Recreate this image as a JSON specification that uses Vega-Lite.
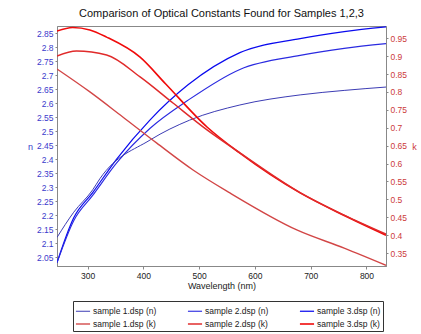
{
  "$schema": "https://vega.github.io/schema/vega-lite/v6.json",
  "autosize": {"type": "none"},
  "padding": {"left": 57, "top": 26, "right": 35, "bottom": 68},
  "width": 329,
  "height": 240,
  "background": "white",
  "title": {"text": "Comparison of Optical Constants Found for Samples 1,2,3", "fontSize": 11, "fontWeight": "normal", "font": "Liberation Sans", "color": "#111", "offset": 7, "anchor": "middle"},
  "config": {
    "view": {"stroke": "#888", "strokeWidth": 1},
    "axis": {"grid": false, "labelFont": "Liberation Sans", "titleFont": "Liberation Sans", "labelFontSize": 8.5, "titleFontSize": 9, "titleFontWeight": "normal", "domainColor": "#888", "tickColor": "#888", "tickSize": 3},
    "legend": {"labelFont": "Liberation Sans"}
  },
  "datasets": {
    "pts": [
      {"series": "sample 3.dsp (n)", "q": "n", "wl": 245, "v": 2.03},
      {"series": "sample 3.dsp (n)", "q": "n", "wl": 275, "v": 2.19},
      {"series": "sample 3.dsp (n)", "q": "n", "wl": 309, "v": 2.28},
      {"series": "sample 3.dsp (n)", "q": "n", "wl": 352, "v": 2.40},
      {"series": "sample 3.dsp (n)", "q": "n", "wl": 412, "v": 2.54},
      {"series": "sample 3.dsp (n)", "q": "n", "wl": 480, "v": 2.665},
      {"series": "sample 3.dsp (n)", "q": "n", "wl": 573, "v": 2.78},
      {"series": "sample 3.dsp (n)", "q": "n", "wl": 681, "v": 2.83},
      {"series": "sample 3.dsp (n)", "q": "n", "wl": 760, "v": 2.855},
      {"series": "sample 3.dsp (n)", "q": "n", "wl": 835, "v": 2.872},
      {"series": "sample 2.dsp (n)", "q": "n", "wl": 245, "v": 2.03},
      {"series": "sample 2.dsp (n)", "q": "n", "wl": 275, "v": 2.18},
      {"series": "sample 2.dsp (n)", "q": "n", "wl": 309, "v": 2.27},
      {"series": "sample 2.dsp (n)", "q": "n", "wl": 352, "v": 2.386},
      {"series": "sample 2.dsp (n)", "q": "n", "wl": 412, "v": 2.51},
      {"series": "sample 2.dsp (n)", "q": "n", "wl": 480, "v": 2.61},
      {"series": "sample 2.dsp (n)", "q": "n", "wl": 573, "v": 2.72},
      {"series": "sample 2.dsp (n)", "q": "n", "wl": 681, "v": 2.77},
      {"series": "sample 2.dsp (n)", "q": "n", "wl": 760, "v": 2.795},
      {"series": "sample 2.dsp (n)", "q": "n", "wl": 835, "v": 2.812},
      {"series": "sample 1.dsp (n)", "q": "n", "wl": 245, "v": 2.12},
      {"series": "sample 1.dsp (n)", "q": "n", "wl": 275, "v": 2.21},
      {"series": "sample 1.dsp (n)", "q": "n", "wl": 309, "v": 2.29},
      {"series": "sample 1.dsp (n)", "q": "n", "wl": 322, "v": 2.33},
      {"series": "sample 1.dsp (n)", "q": "n", "wl": 412, "v": 2.468},
      {"series": "sample 1.dsp (n)", "q": "n", "wl": 483, "v": 2.539},
      {"series": "sample 1.dsp (n)", "q": "n", "wl": 573, "v": 2.593},
      {"series": "sample 1.dsp (n)", "q": "n", "wl": 681, "v": 2.629},
      {"series": "sample 1.dsp (n)", "q": "n", "wl": 760, "v": 2.645},
      {"series": "sample 1.dsp (n)", "q": "n", "wl": 835, "v": 2.657},
      {"series": "sample 3.dsp (k)", "q": "k", "wl": 245, "v": 0.970},
      {"series": "sample 3.dsp (k)", "q": "k", "wl": 273, "v": 0.980},
      {"series": "sample 3.dsp (k)", "q": "k", "wl": 304, "v": 0.973},
      {"series": "sample 3.dsp (k)", "q": "k", "wl": 334, "v": 0.953},
      {"series": "sample 3.dsp (k)", "q": "k", "wl": 394, "v": 0.897},
      {"series": "sample 3.dsp (k)", "q": "k", "wl": 440, "v": 0.822},
      {"series": "sample 3.dsp (k)", "q": "k", "wl": 514, "v": 0.702},
      {"series": "sample 3.dsp (k)", "q": "k", "wl": 573, "v": 0.629},
      {"series": "sample 3.dsp (k)", "q": "k", "wl": 681, "v": 0.518},
      {"series": "sample 3.dsp (k)", "q": "k", "wl": 760, "v": 0.455},
      {"series": "sample 3.dsp (k)", "q": "k", "wl": 835, "v": 0.400},
      {"series": "sample 2.dsp (k)", "q": "k", "wl": 245, "v": 0.900},
      {"series": "sample 2.dsp (k)", "q": "k", "wl": 280, "v": 0.914},
      {"series": "sample 2.dsp (k)", "q": "k", "wl": 334, "v": 0.903},
      {"series": "sample 2.dsp (k)", "q": "k", "wl": 394, "v": 0.842},
      {"series": "sample 2.dsp (k)", "q": "k", "wl": 453, "v": 0.769},
      {"series": "sample 2.dsp (k)", "q": "k", "wl": 514, "v": 0.694},
      {"series": "sample 2.dsp (k)", "q": "k", "wl": 573, "v": 0.630},
      {"series": "sample 2.dsp (k)", "q": "k", "wl": 681, "v": 0.519},
      {"series": "sample 2.dsp (k)", "q": "k", "wl": 760, "v": 0.456},
      {"series": "sample 2.dsp (k)", "q": "k", "wl": 835, "v": 0.403},
      {"series": "sample 1.dsp (k)", "q": "k", "wl": 245, "v": 0.864},
      {"series": "sample 1.dsp (k)", "q": "k", "wl": 304, "v": 0.800},
      {"series": "sample 1.dsp (k)", "q": "k", "wl": 363, "v": 0.730},
      {"series": "sample 1.dsp (k)", "q": "k", "wl": 424, "v": 0.657},
      {"series": "sample 1.dsp (k)", "q": "k", "wl": 489, "v": 0.582},
      {"series": "sample 1.dsp (k)", "q": "k", "wl": 555, "v": 0.518},
      {"series": "sample 1.dsp (k)", "q": "k", "wl": 676, "v": 0.414},
      {"series": "sample 1.dsp (k)", "q": "k", "wl": 760, "v": 0.364},
      {"series": "sample 1.dsp (k)", "q": "k", "wl": 835, "v": 0.316}
    ]
  },
  "data": {"name": "pts"},
  "encoding": {
    "x": {"field": "wl", "type": "quantitative", "scale": {"domain": [245, 835], "nice": false, "zero": false},
      "axis": {"title": "Wavelength (nm)", "values": [300, 400, 500, 600, 700, 800], "labelPadding": 2, "titlePadding": 2, "labelColor": "#222", "titleColor": "#222"}},
    "color": {"field": "series", "type": "nominal",
      "scale": {"domain": ["sample 1.dsp (n)", "sample 2.dsp (n)", "sample 3.dsp (n)", "sample 1.dsp (k)", "sample 2.dsp (k)", "sample 3.dsp (k)"],
                "range": ["#3c3cb4", "#2a2ae0", "#0a0aee", "#d24646", "#e02a2a", "#f00a0a"]},
      "legend": {"title": null, "orient": "none", "legendX": 16, "legendY": 275, "columns": 3, "direction": "horizontal", "symbolType": "stroke", "symbolSize": 200, "symbolStrokeWidth": 1, "labelFontSize": 8.5, "labelColor": "#222", "columnPadding": 27, "rowPadding": 0, "strokeColor": "#333", "padding": 2, "labelOffset": 2, "symbolOffset": 0}},
    "strokeWidth": {"field": "series", "type": "nominal",
      "scale": {"domain": ["sample 1.dsp (n)", "sample 2.dsp (n)", "sample 3.dsp (n)", "sample 1.dsp (k)", "sample 2.dsp (k)", "sample 3.dsp (k)"], "range": [1, 1.6, 2.4, 1, 1.6, 2.4]},
      "legend": null}
  },
  "layer": [
    {
      "transform": [{"filter": "datum.q === 'n'"}],
      "mark": {"type": "line", "interpolate": "monotone", "clip": true},
      "encoding": {
        "y": {"field": "v", "type": "quantitative", "scale": {"domain": [2.018, 2.875], "nice": false, "zero": false},
          "axis": {"title": "n", "orient": "left", "values": [2.05, 2.1, 2.15, 2.2, 2.25, 2.3, 2.35, 2.4, 2.45, 2.5, 2.55, 2.6, 2.65, 2.7, 2.75, 2.8, 2.85], "format": "~g", "labelColor": "#3a3acc", "titleColor": "#3a3acc", "titleAngle": 0, "titleAlign": "center", "titleBaseline": "middle", "titleX": -27, "titleY": 120, "labelPadding": 2, "tickSize": 2}}
      }
    },
    {
      "transform": [{"filter": "datum.q === 'k'"}],
      "mark": {"type": "line", "interpolate": "monotone", "clip": true},
      "encoding": {
        "y": {"field": "v", "type": "quantitative", "scale": {"domain": [0.314, 0.984], "nice": false, "zero": false},
          "axis": {"title": "k", "orient": "right", "values": [0.35, 0.4, 0.45, 0.5, 0.55, 0.6, 0.65, 0.7, 0.75, 0.8, 0.85, 0.9, 0.95], "format": "~g", "labelColor": "#cc3a3a", "titleColor": "#cc3a3a", "titleAngle": 0, "titleAlign": "center", "titleBaseline": "middle", "titleX": 28, "titleY": 120, "labelPadding": 2, "tickSize": 2}}
      }
    }
  ],
  "resolve": {"scale": {"y": "independent"}}
}
